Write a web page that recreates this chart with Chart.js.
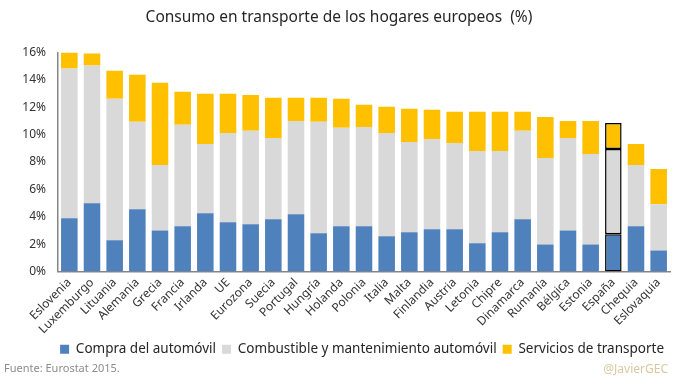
<!DOCTYPE html>
<html><head><meta charset="utf-8">
<script src="https://cdn.jsdelivr.net/npm/chart.js@4/dist/chart.umd.min.js"></script>
<style>
html,body{margin:0;padding:0;background:#fff;}
#wrap{position:relative;width:680px;height:378px;}
#src{position:absolute;left:4px;top:360px;font:11px "Noto Sans",sans-serif;color:#8c8c8c;}
#tag{position:absolute;right:12px;top:360px;font:12px "Noto Sans",sans-serif;color:#d8c9a0;}
</style></head>
<body><div id="wrap"><canvas id="c" width="680" height="378"></canvas>
<div id="src">Fuente: Eurostat 2015.</div><div id="tag">@JavierGEC</div></div>
<script>
const categories = ["Eslovenia","Luxemburgo","Lituania","Alemania","Grecia","Francia","Irlanda","UE","Eurozona","Suecia","Portugal","Hungría","Holanda","Polonia","Italia","Malta","Finlandia","Austria","Letonia","Chipre","Dinamarca","Rumanía","Bélgica","Estonia","España","Chequia","Eslovaquia"];
const compra = [3.89,4.99,2.28,4.55,3.00,3.30,4.26,3.60,3.45,3.82,4.18,2.79,3.30,3.30,2.57,2.86,3.08,3.08,2.06,2.86,3.82,1.98,3.00,1.98,2.72,3.30,1.54];
const combustible = [10.94,10.06,10.34,6.39,4.78,7.42,5.06,6.53,6.83,5.94,6.82,8.15,7.20,7.27,7.56,6.61,6.61,6.31,6.75,5.95,6.46,6.31,6.76,6.61,6.23,4.48,3.38];
const servicios = [1.17,0.88,2.06,3.45,6.02,2.42,3.67,2.86,2.62,2.94,1.70,1.76,2.12,1.61,1.91,2.42,2.13,2.28,2.86,2.86,1.39,3.01,1.24,2.41,1.91,1.54,2.57];
const yTicks = [0,2,4,6,8,10,12,14,16];
const highlight = "España";

const FONT = "Noto Sans";
const bw = categories.map(c => c === highlight ? 1.5 : 0);
const bc = categories.map(c => c === highlight ? "#000000" : "rgba(0,0,0,0)");
function ds(label, data, color){
  return {label, data, backgroundColor: color, borderColor: bc, borderWidth: bw, borderSkipped: false, barPercentage: 0.73, categoryPercentage: 1.0};
}
new Chart(document.getElementById("c"), {
  type: "bar",
  data: {
    labels: categories,
    datasets: [
      ds("Compra del automóvil", compra, "#4f81bd"),
      ds("Combustible y mantenimiento automóvil", combustible, "#d9d9d9"),
      ds("Servicios de transporte", servicios, "#ffc000")
    ]
  },
  options: {
    responsive: false, animation: false,
    layout: {padding: {left: 8, right: 10, top: 0, bottom: 12}},
    plugins: {
      title: {display: true, text: "Consumo en transporte de los hogares europeos  (%)", color: "#262626",
        font: {family: FONT, size: 15.5, weight: "normal"}, padding: {top: 8, bottom: 26}},
      legend: {position: "bottom", align: "end", labels: {color: "#262626", font: {family: FONT, size: 13.5}, boxWidth: 9, boxHeight: 9, padding: 6}},
      tooltip: {enabled: false}
    },
    scales: {
      x: {stacked: true,
        afterFit: s => { s.height = 65; },
        grid: {display: false, drawTicks: false},
        border: {display: true, color: "#868686", width: 1.5},
        ticks: {minRotation: 45, maxRotation: 45, color: "#333333", font: {family: FONT, size: 12}, padding: 4, autoSkip: false}
      },
      y: {stacked: true, min: 0, max: 16,
        afterBuildTicks: s => { s.ticks = yTicks.map(v => ({value: v})); },
        afterFit: s => { s.width = 50; },
        grid: {display: false, drawTicks: false},
        border: {display: true, color: "#868686", width: 1.5},
        ticks: {color: "#333333", font: {family: FONT, size: 12}, padding: 12, callback: v => v + "%"}
      }
    }
  }
});
</script></body></html>
